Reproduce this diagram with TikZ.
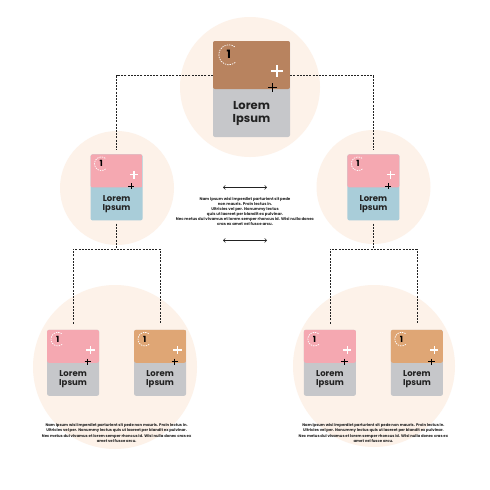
\documentclass[tikz,border=0pt]{standalone}
\usepackage{fontspec}
\setmainfont{Poppins}
\usepackage{xcolor}
\usetikzlibrary{positioning,calc,arrows.meta}

\definecolor{halo}{HTML}{FDF2E9}
\definecolor{clay}{HTML}{B8835F}
\definecolor{sand}{HTML}{DFA675}
\definecolor{blush}{HTML}{F5A8B1}
\definecolor{mist}{HTML}{A9CDD9}
\definecolor{stone}{HTML}{C6C7CA}
\definecolor{ink}{HTML}{222222}

\begin{document}
\begin{tikzpicture}[
    x=1pt, y=-1pt,
    card/.style 2 args={rectangle, rounded corners=2pt, inner sep=0pt, fill=#2,
        minimum width=52pt, minimum height=66pt,
        path picture={\fill[#1] (path picture bounding box.north west) rectangle (path picture bounding box.east);}},
    big/.style={minimum width=77pt, minimum height=96pt},
    ring/.style={draw=white, dash pattern=on 1.4pt off 1pt, line width=0.7pt},
    link/.style={draw=ink, dash pattern=on 2pt off 1.2pt, line width=0.8pt},
    twoway/.style={{Straight Barb[length=2pt]}-{Straight Barb[length=2pt]}, draw=ink, line width=0.5pt},
    note/.style={text=ink, align=center, inner sep=0pt}
]
    \useasboundingbox[fill=white] (0,0) rectangle (490,490);

    % soft circles behind each group
    \fill[halo] (250,87) circle (70pt);
    \fill[halo] (117,188) circle (57pt);
    \fill[halo] (373.5,187) circle (57pt);
    \fill[halo] (115,367) circle (82pt);
    \fill[halo] (374,366) circle (81pt);

    \node[card={clay}{stone}, big] (root) at (251.5,89) {};
    \node[card={blush}{mist}, below left=17pt and 70pt of root] (midL) {};
    \node[card={blush}{mist}, below right=17pt and 57pt of root] (midR) {};
    \node[card={blush}{stone}, below=109pt of midL, xshift=-43.5pt] (midL-a) {};
    \node[card={sand}{stone}, below=109pt of midL, xshift=43.5pt] (midL-b) {};
    \node[card={blush}{stone}, below=109pt of midR, xshift=-43.5pt] (midR-a) {};
    \node[card={sand}{stone}, below=109pt of midR, xshift=43.5pt] (midR-b) {};

    % number, ring, pluses and title on every card
    \foreach \c/\s/\f/\b in {root/1/11.5/13, midL/0.68/8.5/9.4, midR/0.68/8.5/9.4,
        midL-a/0.68/8.5/9.4, midL-b/0.68/8.5/9.4, midR-a/0.68/8.5/9.4, midR-b/0.68/8.5/9.4} {
        \node[inner sep=0pt, font=\bfseries\fontsize{\f}{\f}\selectfont] (\c-num)
            at ($(\c.north west)+({16*\s},{14*\s})$) {1};
        \draw[ring] (\c-num.center) +(50:{10*\s}) arc[start angle=50, end angle=310, radius={10*\s}];
        \draw[white, line width={1.8pt*\s}] ($(\c.north west)+({64*\s},{30*\s})$) coordinate (\c-pw)
            +({-6*\s},0) -- +({6*\s},0) +(0,{-6*\s}) -- +(0,{6*\s});
        \draw[black, line width={1.1pt*\s}] ($(\c.north west)+({60*\s},{47*\s})$) coordinate (\c-pb)
            +({-4.5*\s},0) -- +({4.5*\s},0) +(0,{-4.5*\s}) -- +(0,{4.5*\s});
        \node[note, font=\bfseries\fontsize{\f}{\b}\selectfont] (\c-txt)
            at ($(\c.center)!0.5!(\c.south)$) {Lorem\\Ipsum};
    }

    \draw[link, shorten >=4pt] ($(root.north west)+(0,35)$) -| (midL.north);
    \draw[link, shorten >=4pt] ($(root.north east)+(0,35)$) -| (midR.north);
    \draw[link, shorten <=3pt] (midL.south) -- ++(0,28.5) coordinate (midL-j);
    \draw[link, shorten <=3pt] (midR.south) -- ++(0,28.5) coordinate (midR-j);
    \draw[link, shorten <=6pt, shorten >=6pt] (midL-a.north) |- (midL-j) -| (midL-b.north);
    \draw[link, shorten <=6pt, shorten >=6pt] (midR-a.north) |- (midR-j) -| (midR-b.north);

    \node[note, font=\bfseries\fontsize{3.9}{5}\selectfont] (desc)
        at ($($(midL)!0.5!(midR)$)+(0,24.5)$)
        {Nam ipsum wisi imperdiet parturient sit pede\\non mauris. Proin lectus in.\\Ultricies vel per. Nonummy lectus\\quis ut laoreet per blandit ex pulvinar.\\Nec metus dui vivamus et lorem semper rhoncus id. Wisi nulla donec\\cras ex amet vel fusce arcu.};
    \draw[twoway] ($(desc.center)+(-22,-24.5)$) -- ++(44,0);
    \draw[twoway] ($(desc.center)+(-22,28.5)$) -- ++(44,0);

    \node[note, font=\bfseries\fontsize{3.8}{5.5}\selectfont] (noteL)
        at ($($(midL-a.south)!0.5!(midL-b.south)$)+(0,37)$)
        {Nam ipsum wisi imperdiet parturient sit pede non mauris. Proin lectus in.\\Ultricies vel per. Nonummy lectus quis ut laoreet per blandit ex pulvinar.\\Nec metus dui vivamus et lorem semper rhoncus id. Wisi nulla donec cras ex\\amet vel fusce arcu.};
    \node[note, font=\bfseries\fontsize{3.8}{5.5}\selectfont] (noteR)
        at ($($(midR-a.south)!0.5!(midR-b.south)$)+(0,37)$)
        {Nam ipsum wisi imperdiet parturient sit pede non mauris. Proin lectus in.\\Ultricies vel per. Nonummy lectus quis ut laoreet per blandit ex pulvinar.\\Nec metus dui vivamus et lorem semper rhoncus id. Wisi nulla donec cras ex\\amet vel fusce arcu.};
\end{tikzpicture}
\end{document}
